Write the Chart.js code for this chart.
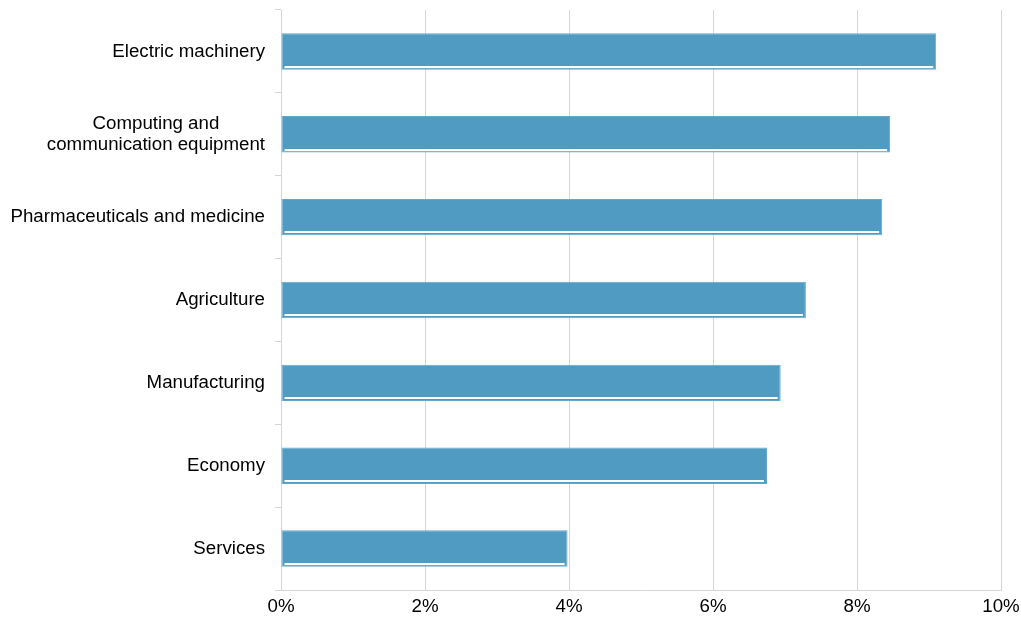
<!DOCTYPE html>
<html>
<head>
<meta charset="utf-8">
<script src="https://cdn.jsdelivr.net/npm/chart.js@4"></script>
<style>
    html, body { margin: 0; padding: 0; background: #fff; }
    #wrap { width: 1021px; height: 620px; }
</style>
</head>
<body>
<div id="wrap"><canvas id="growthChart"></canvas></div>
<script>
const categories = [
    'Electric machinery',
    ['Computing and', 'communication equipment'],
    'Pharmaceuticals and medicine',
    'Agriculture',
    'Manufacturing',
    'Economy',
    'Services'
];
const growthValues = [9.1, 8.46, 8.35, 7.29, 6.94, 6.75, 3.98];
const xTicks = [0, 2, 4, 6, 8, 10];

const FONT = "'Liberation Sans', Arial, sans-serif";
const FONT_SIZE = 18.7;
const GRID = '#d6d6d6';

// ─── Labels drawn centred line-by-line, right edge at the axis ───
const yLabelPlugin = {
    id: 'yLabels',
    afterDraw(chart) {
        const ctx = chart.ctx;
        const y   = chart.scales.y;
        const right = y.right - 16;
        const lineH = 21;
        ctx.save();
        ctx.font = `${FONT_SIZE}px ${FONT}`;
        ctx.fillStyle = '#000';
        ctx.textBaseline = 'middle';
        ctx.textAlign = 'center';
        categories.forEach((lab, i) => {
            const lines = Array.isArray(lab) ? lab : [lab];
            const maxW  = Math.max(...lines.map(l => ctx.measureText(l).width));
            const cx = right - maxW / 2;
            const cy = y.getPixelForValue(i);
            lines.forEach((l, j) => {
                ctx.fillText(l, cx, cy + (j - (lines.length - 1) / 2) * lineH);
            });
        });
        ctx.restore();
    }
};

// ─── White highlight line near the bottom of each bar ───
const barShinePlugin = {
    id: 'barShine',
    afterDatasetsDraw(chart) {
        const ctx = chart.ctx;
        chart.getDatasetMeta(0).data.forEach(bar => {
            const { x, y, base, height } = bar.getProps(['x', 'y', 'base', 'height'], true);
            const ly = Math.round(y + height / 2 - 4);
            ctx.save();
            ctx.fillStyle = '#ffffff';
            ctx.fillRect(base + 3, ly, x - base - 6, 2);
            ctx.restore();
        });
    }
};

new Chart(document.getElementById('growthChart'), {
    type: 'bar',
    data: {
        labels: categories,
        datasets: [{
            data: growthValues,
            backgroundColor: '#4f9bc2',
            borderColor: '#62a8cd',
            borderWidth: 1,
            borderSkipped: false,
            barPercentage: 0.44,
            categoryPercentage: 1
        }]
    },
    options: {
        indexAxis: 'y',
        responsive: true,
        maintainAspectRatio: false,
        animation: false,
        layout: { padding: { top: 10, right: 20, left: 0, bottom: 0 } },
        plugins: {
            legend:  { display: false },
            tooltip: { enabled: false }
        },
        scales: {
            x: {
                min: 0,
                max: 10,
                afterBuildTicks(scale) { scale.ticks = xTicks.map(v => ({ value: v })); },
                afterFit(scale) {
                    scale.height = 30;
                    scale.paddingLeft = 0;
                    scale.paddingRight = 0;
                },
                grid:   { color: GRID, drawTicks: false },
                border: { color: GRID },
                ticks:  {
                    padding: 6,
                    color: '#000',
                    font: { family: FONT, size: FONT_SIZE },
                    callback: v => v + '%'
                }
            },
            y: {
                afterFit(scale) {
                    scale.width = 281;
                    scale.paddingTop = 0;
                    scale.paddingBottom = 0;
                },
                grid:   { color: GRID, drawOnChartArea: false, tickLength: 6, offset: true },
                border: { color: GRID },
                ticks:  { color: 'rgba(0,0,0,0)', font: { family: FONT, size: 2 } }
            }
        }
    },
    plugins: [yLabelPlugin, barShinePlugin]
});
</script>
</body>
</html>
